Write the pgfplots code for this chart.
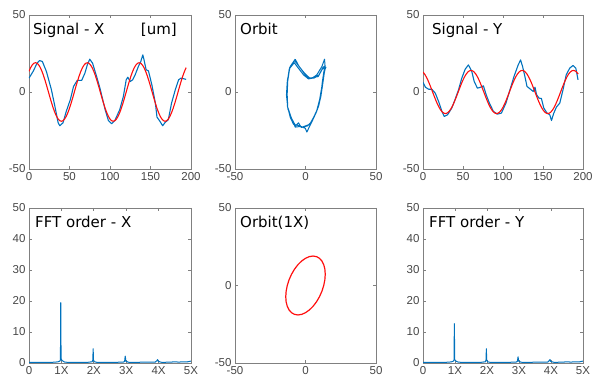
\documentclass[border=0pt]{standalone}
\usepackage{fontspec}
\setmainfont{DejaVu Sans}
\newfontfamily\tickfont{Liberation Sans}
\usepackage{pgfplots}
\usepackage{pgfplotstable}
\pgfplotsset{compat=1.18}
\definecolor{mblue}{rgb}{0,0.447,0.741}
\definecolor{mred}{rgb}{1,0.05,0.05}

% fitted 1X sinusoids (t, X, Y)
\pgfplotstableread{
t rx ry
0 13.43 12.93
2 15.80 11.64
4 17.55 9.90
6 18.64 7.78
8 19.00 5.36
10 18.64 2.73
12 17.55 0
14 15.80 -2.73
16 13.43 -5.36
18 10.56 -7.78
20 7.27 -9.90
22 3.71 -11.64
24 0 -12.93
26 -3.71 -13.73
28 -7.27 -14
30 -10.56 -13.73
32 -13.43 -12.93
34 -15.80 -11.64
36 -17.55 -9.90
38 -18.64 -7.78
40 -19.00 -5.36
42 -18.64 -2.73
44 -17.55 0
46 -15.80 2.73
48 -13.43 5.36
50 -10.56 7.78
52 -7.27 9.90
54 -3.71 11.64
56 0 12.93
58 3.71 13.73
60 7.27 14
62 10.56 13.73
64 13.43 12.93
66 15.80 11.64
68 17.55 9.90
70 18.64 7.78
72 19.00 5.36
74 18.64 2.73
76 17.55 0
78 15.80 -2.73
80 13.43 -5.36
82 10.56 -7.78
84 7.27 -9.90
86 3.71 -11.64
88 0 -12.93
90 -3.71 -13.73
92 -7.27 -14
94 -10.56 -13.73
96 -13.43 -12.93
98 -15.80 -11.64
100 -17.55 -9.90
102 -18.64 -7.78
104 -19.00 -5.36
106 -18.64 -2.73
108 -17.55 0
110 -15.80 2.73
112 -13.43 5.36
114 -10.56 7.78
116 -7.27 9.90
118 -3.71 11.64
120 0 12.93
122 3.71 13.73
124 7.27 14
126 10.56 13.73
128 13.43 12.93
130 15.80 11.64
132 17.55 9.90
134 18.64 7.78
136 19.00 5.36
138 18.64 2.73
140 17.55 0
142 15.80 -2.73
144 13.43 -5.36
146 10.56 -7.78
148 7.27 -9.90
150 3.71 -11.64
152 0 -12.93
154 -3.71 -13.73
156 -7.27 -14
158 -10.56 -13.73
160 -13.43 -12.93
162 -15.80 -11.64
164 -17.55 -9.90
166 -18.64 -7.78
168 -19.00 -5.36
170 -18.64 -2.73
172 -17.55 0
174 -15.80 2.73
176 -13.43 5.36
178 -10.56 7.78
180 -7.27 9.90
182 -3.71 11.64
184 0 12.93
186 3.71 13.73
188 7.27 14
190 10.56 13.73
192 13.43 12.93
194 15.80 11.64
}\fitted

\pgfplotstableread{
t v
0 9
5 13.3
10 18.7
13 20.4
16.5 19.8
21.5 13.3
27.7 1.4
32 -9.4
36 -20
38 -21.9
42 -20
46 -12.6
51 -5
55 3.6
59.5 7.5
65 7.5
69 12.2
72 17.6
75 21.3
78.5 18.7
83.5 10
87.6 2.5
94 -11.5
98 -18.5
102 -20.6
106 -18.5
112 -11.5
116.5 -2.9
120 7.9
122 9.6
125 6.8
128 7.9
131 11.1
135 16.5
138 19.8
140.5 24.1
142 20.9
144.6 14.4
147.5 13.7
151.7 4.6
156 -7.2
158 -16.3
161 -18.5
165 -21.9
168 -19.8
172 -18
176 -7.2
180.6 1.4
184.7 7.9
187.6 9
191.7 8.5
194 8.2
}\sigx

\pgfplotstableread{
t v
0 6.2
3 3.1
7 1.8
11 1.8
15.4 -0.8
19.5 -6.2
23.7 -12.7
26.6 -15.9
30.7 -14.8
36 -10.4
40 -5
44.4 1.4
48.5 9
52.7 14.8
56.8 17.6
61 13.3
64 6.8
68 2.5
72 3.1
75.5 4
79 -1.8
83 -7.2
88 -12.6
92.9 -14.4
98 -13.7
103.7 -7.2
108.7 1.4
113.7 10
119 17.6
122 20.8
124.5 16.5
127.4 10
130 3.6
134.4 1.8
137.8 0.3
140 3.1
142 -1.8
145 -4
148 -4.2
151 -10.4
155 -13.7
158.5 -14.8
160.6 -18.5
163.5 -13.7
166.8 -9.8
171 -7.2
175 1.4
179 11.1
183.4 15.5
187.5 17.2
191 15.5
193.8 7.9
}\sigy

\pgfplotstableread{
x y
-7.3 21.3
-10.9 16.5
-12.8 7.9
-13.3 -0.8
-12.8 -9.4
-10.4 -15.9
-8 -21.3
-7.3 -22.8
-3.8 -22.4
-0.2 -23.5
1 -26
2.8 -22.4
5.2 -18
7.6 -13.3
9.2 -9.4
10.9 -2.9
12.3 5.7
13.3 12.2
14 15.4
13.5 21.3
11.6 16.5
8 11.1
4.5 8.9
2.1 8.5
-1.4 11.1
-5 15.4
-8 19
-11.5 15
-13 6
-13.5 -2
-12.5 -11
-10 -17
-7 -22
-5 -20
-3 -23
0 -22
3 -21
6 -16
8 -12
10 -5
11.5 3
12.5 10
13.5 14
14.5 16
12 15
9 10
6 9.5
3 9
0 11
-4 16
-7.8 20.5
-11.2 15.8
-12.6 7
-13 -1.5
-12.6 -10
-10.8 -16.5
-8.5 -21
-6 -21.5
-2 -22.8
1.5 -22
4 -19.5
7 -14.5
9.5 -8.5
11 -1
12 7
13 13
13.8 17
12.5 16
9.5 11
6 9
2.8 9.2
-0.5 12
-4.5 16.5
-7.3 21.3
}\orbit

\pgfplotstableread{
f a
0 0.2
0.5 0.2
0.8 0.25
0.9 0.4
0.95 0.6
0.97 1.0
0.98 19.5
0.99 1.5
1.01 0.9
1.05 0.6
1.1 0.3
1.2 0.2
1.8 0.2
1.95 0.4
1.97 1.0
1.98 4.6
1.99 1.0
2.02 0.4
2.1 0.2
2.9 0.25
2.95 0.5
2.97 2.2
2.99 0.6
3.05 0.3
3.1 0.2
3.9 0.3
3.95 0.8
3.97 1.1
3.99 0.5
4.1 0.2
4.4 0.3
4.5 0.4
4.6 0.3
4.9 0.4
5.0 0.6
}\fftx

\pgfplotstableread{
f a
0 0.2
0.5 0.2
0.8 0.25
0.9 0.4
0.95 0.6
0.97 1.0
0.98 12.7
0.99 1.2
1.01 0.8
1.05 0.5
1.1 0.3
1.2 0.2
1.8 0.2
1.95 0.4
1.97 1.0
1.98 4.6
1.99 1.0
2.02 0.4
2.1 0.2
2.9 0.25
2.95 0.5
2.97 2.0
2.99 0.6
3.05 0.3
3.1 0.2
3.9 0.3
3.95 0.8
3.97 1.1
3.99 0.5
4.1 0.2
4.4 0.3
4.5 0.4
4.6 0.3
4.9 0.4
5.0 0.6
}\ffty

\pgfplotsset{
  panel/.style={
    scale only axis, anchor=south west,
    axis line style={black!50, line width=0.6pt},
    tick style={black!50, line width=0.6pt},
    tick align=inside, major tick length=3pt,
    ticklabel style={font=\tickfont\fontsize{11.5}{13}\selectfont, text=black!72},
    /pgf/number format/assume math mode=true,
  },
}
\tikzset{ptitle/.style={anchor=base west, inner sep=0pt, font=\fontsize{15}{18}\selectfont}}

\begin{document}
\begin{tikzpicture}[x=1pt,y=1pt]
\useasboundingbox (0,0) rectangle (598,385);

% ---------- top row ----------
\begin{axis}[panel, at={(29pt,216pt)}, width=162pt, height=154pt,
  xmin=0, xmax=200, ymin=-50, ymax=50,
  xtick={0,50,100,150,200}, ytick={-50,0,50}]
  \addplot[mblue, line width=1.1pt, line join=round] table[x=t,y=v] {\sigx};
  \addplot[mred, line width=1.1pt, line join=round] table[x=t,y=rx] {\fitted};
  \node[ptitle] at ([xshift=4pt,yshift=-20pt]rel axis cs:0,1) {Signal - X};
  \node[ptitle, anchor=base east] at ([xshift=-14pt,yshift=-20pt]rel axis cs:1,1) {[um]};
\end{axis}

\begin{axis}[panel, at={(235pt,216pt)}, width=141pt, height=154pt,
  xmin=-50, xmax=50, ymin=-50, ymax=50,
  xtick={-50,0,50}, ytick={-50,0,50}]
  \addplot[mblue, line width=1.0pt, line join=round] table[x=x,y=y] {\orbit};
  \node[ptitle] at ([xshift=5pt,yshift=-20pt]rel axis cs:0,1) {Orbit};
\end{axis}

\begin{axis}[panel, at={(423pt,216pt)}, width=160pt, height=154pt,
  xmin=0, xmax=200, ymin=-50, ymax=50,
  xtick={0,50,100,150,200}, ytick={-50,0,50}]
  \addplot[mblue, line width=1.1pt, line join=round] table[x=t,y=v] {\sigy};
  \addplot[mred, line width=1.1pt, line join=round] table[x=t,y=ry] {\fitted};
  \node[ptitle] at ([xshift=9pt,yshift=-20pt]rel axis cs:0,1) {Signal - Y};
\end{axis}

% ---------- bottom row ----------
\begin{axis}[panel, at={(29pt,22pt)}, width=162pt, height=155pt,
  xmin=0, xmax=5, ymin=0, ymax=50,
  xtick={0,1,2,3,4,5}, xticklabels={0,1X,2X,3X,4X,5X},
  ytick={0,10,20,30,40,50}]
  \addplot[mblue, line width=1.0pt, line join=round] table[x=f,y=a] {\fftx};
  \node[ptitle] at ([xshift=6pt,yshift=-20pt]rel axis cs:0,1) {FFT order - X};
\end{axis}

\begin{axis}[panel, at={(235pt,22pt)}, width=141pt, height=155pt,
  xmin=-50, xmax=50, ymin=-50, ymax=50,
  xtick={-50,0,50}, ytick={-50,0,50}]
  \addplot[mred, line width=1.2pt, line join=round] table[x=ry,y=rx] {\fitted};
  \node[ptitle] at ([xshift=5pt,yshift=-20pt]rel axis cs:0,1) {Orbit(1X)};
\end{axis}

\begin{axis}[panel, at={(423pt,22pt)}, width=160pt, height=155pt,
  xmin=0, xmax=5, ymin=0, ymax=50,
  xtick={0,1,2,3,4,5}, xticklabels={0,1X,2X,3X,4X,5X},
  ytick={0,10,20,30,40,50}]
  \addplot[mblue, line width=1.0pt, line join=round] table[x=f,y=a] {\ffty};
  \node[ptitle] at ([xshift=6pt,yshift=-20pt]rel axis cs:0,1) {FFT order - Y};
\end{axis}
\end{tikzpicture}
\end{document}
